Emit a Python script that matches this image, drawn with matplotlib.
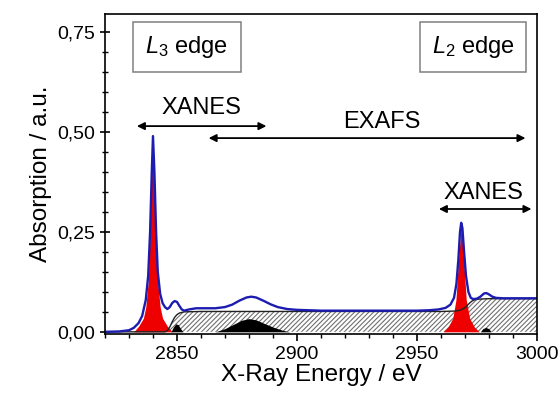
import matplotlib
matplotlib.use("Agg")
import matplotlib.pyplot as plt
from matplotlib.patches import Rectangle
from matplotlib.ticker import MultipleLocator, FuncFormatter

plt.rcParams["font.family"] = ["Liberation Sans", "DejaVu Sans"]
plt.rcParams["hatch.linewidth"] = 0.8
plt.rcParams["mathtext.fontset"] = "custom"
plt.rcParams["mathtext.rm"] = "Liberation Sans"
plt.rcParams["mathtext.it"] = "Liberation Sans:italic"

# ── Data ─────────────────────────────────────────────────────────────────────
spec_x = [2820, 2826, 2830, 2832, 2834, 2835.5, 2837, 2838, 2838.8, 2839.5,
          2840, 2840.6, 2841.3, 2842, 2843, 2844, 2845, 2846, 2847, 2848,
          2849, 2850, 2851, 2852, 2853, 2855, 2858, 2862, 2866, 2870,
          2873, 2876, 2879, 2881, 2883, 2886, 2889, 2892, 2896, 2900,
          2905, 2910, 2920, 2930, 2940, 2950, 2955, 2959, 2962, 2964,
          2965.5, 2966.5, 2967.3, 2968, 2968.5, 2969, 2969.7, 2970.5, 2971.5, 2972.5,
          2973.5, 2975, 2976.5, 2978, 2979, 2980, 2981.5, 2983, 2986, 2990, 3000]
spec_y = [0.0, 0.001, 0.004, 0.010, 0.022, 0.040, 0.080, 0.140, 0.250, 0.400,
          0.490, 0.400, 0.250, 0.150, 0.095, 0.072, 0.062, 0.057, 0.062, 0.072,
          0.077, 0.075, 0.065, 0.056, 0.053, 0.056, 0.059, 0.059, 0.059, 0.062,
          0.068, 0.078, 0.086, 0.088, 0.086, 0.078, 0.069, 0.062, 0.057, 0.055,
          0.054, 0.053, 0.053, 0.053, 0.053, 0.053, 0.054, 0.056, 0.060, 0.068,
          0.085, 0.120, 0.180, 0.250, 0.273, 0.260, 0.200, 0.140, 0.100, 0.085,
          0.082, 0.083, 0.088, 0.096, 0.097, 0.094, 0.088, 0.085, 0.084, 0.084, 0.084]

step_x = [2820, 2845, 2846, 2847, 2848, 2849, 2850, 2851, 2853, 2860,
          2960, 2966, 2968, 2970, 2971, 2972, 2973, 2974, 2976, 2980, 3000]
step_y = [0.0, 0.0, 0.003, 0.012, 0.025, 0.036, 0.043, 0.047, 0.050, 0.051,
          0.051, 0.052, 0.054, 0.060, 0.066, 0.072, 0.077, 0.080, 0.082, 0.083, 0.083]

l3_x = [2832, 2834, 2836, 2837, 2838, 2838.8, 2839.5, 2840, 2840.5, 2841.2,
        2842, 2843, 2844, 2846, 2848]
l3_y = [0.0, 0.014, 0.034, 0.062, 0.125, 0.250, 0.400, 0.480, 0.400, 0.250,
        0.125, 0.062, 0.034, 0.014, 0.0]

l2_x = [2961, 2963, 2965, 2966.3, 2967.3, 2968.5, 2969.6, 2970.6, 2972, 2974, 2976]
l2_y = [0.0, 0.012, 0.034, 0.080, 0.175, 0.265, 0.175, 0.080, 0.034, 0.012, 0.0]

b1_x = [2847.5, 2848.5, 2849.5, 2850.5, 2851.5, 2852.5]
b1_y = [0.0, 0.012, 0.020, 0.018, 0.008, 0.0]
b2_x = [2866, 2870, 2874, 2877, 2880, 2883, 2886, 2890, 2894, 2897]
b2_y = [0.0, 0.008, 0.020, 0.029, 0.033, 0.030, 0.022, 0.012, 0.004, 0.0]
b3_x = [2976.5, 2977.5, 2978.8, 2980, 2981]
b3_y = [0.0, 0.008, 0.011, 0.008, 0.0]

# ── Figure ───────────────────────────────────────────────────────────────────
fig = plt.figure(figsize=(5.6, 3.96), dpi=100)
ax = fig.add_axes([0.1875, 0.157, 0.771, 0.807])

ax.fill_between(step_x, step_y, 0, facecolor="white", edgecolor="#707070",
                hatch="///////", linewidth=0)
ax.fill_between(l3_x, l3_y, 0, color="#ee0000", linewidth=0)
ax.fill_between(l2_x, l2_y, 0, color="#ee0000", linewidth=0)
for bx, by in [(b1_x, b1_y), (b2_x, b2_y), (b3_x, b3_y)]:
    ax.fill_between(bx, by, 0, color="black", linewidth=0)
ax.plot(step_x, step_y, color="#222222", linewidth=1.0)
ax.plot(spec_x, spec_y, color="#1c1cb0", linewidth=1.7)

# region arrows
arrow = dict(arrowstyle="<|-|>", color="black", lw=1.3,
             mutation_scale=11, shrinkA=0, shrinkB=0)
ax.annotate("", xy=(2833.3, 0.515), xytext=(2887.3, 0.515), arrowprops=arrow)
ax.annotate("", xy=(2863.2, 0.485), xytext=(2995.3, 0.485), arrowprops=arrow)
ax.annotate("", xy=(2959.2, 0.3075), xytext=(2997.8, 0.3075), arrowprops=arrow)
ax.text(2860.3, 0.56, "XANES", ha="center", va="center", fontsize=17)
ax.text(2935.5, 0.525, "EXAFS", ha="center", va="center", fontsize=17)
ax.text(2977.9, 0.3475, "XANES", ha="center", va="center", fontsize=17)

# edge label boxes
for x0, x1 in [(2831.6, 2876.5), (2951.3, 2995.7)]:
    ax.add_patch(Rectangle((x0, 0.65), x1 - x0, 0.125, facecolor="white",
                           edgecolor="#808080", lw=1.1, zorder=3))
ax.text(2854, 0.714, r"$L_3$ edge", ha="center", va="center", fontsize=17, zorder=4)
ax.text(2973.5, 0.714, r"$L_2$ edge", ha="center", va="center", fontsize=17, zorder=4)

ax.set_xlim(2820, 3000)
ax.set_ylim(-0.005, 0.795)
ax.xaxis.set_major_locator(MultipleLocator(50))
ax.xaxis.set_minor_locator(MultipleLocator(10))
ax.yaxis.set_major_locator(MultipleLocator(0.25))
ax.yaxis.set_minor_locator(MultipleLocator(0.05))
ax.yaxis.set_major_formatter(FuncFormatter(lambda v, p: f"{v:.2f}".replace(".", ",")))
ax.tick_params(axis="x", which="major", direction="out", length=5, width=1.2, labelsize=14)
ax.tick_params(axis="x", which="minor", direction="out", length=3, width=1.0)
ax.tick_params(axis="y", which="major", direction="inout", length=7, width=1.2, labelsize=14)
ax.tick_params(axis="y", which="minor", direction="inout", length=5, width=1.0)
for s in ax.spines.values():
    s.set_linewidth(1.2)

ax.set_xlabel("X-Ray Energy / eV", fontsize=17.5, labelpad=1)
ax.set_ylabel("Absorption / a.u.", fontsize=17.5, labelpad=4)

fig.savefig("out.png", dpi=100)
